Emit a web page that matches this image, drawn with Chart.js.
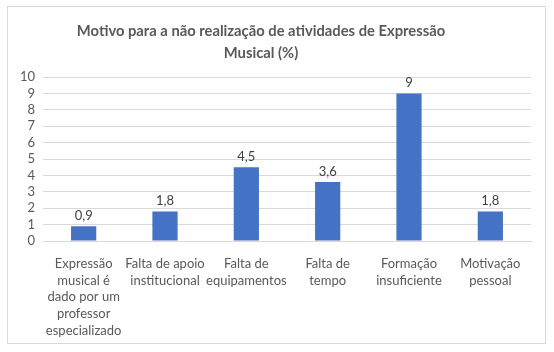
<!DOCTYPE html>
<html>
<head>
<meta charset="utf-8">
<script src="https://cdn.jsdelivr.net/npm/chart.js@4/dist/chart.umd.min.js"></script>
<style>
  html, body { margin: 0; padding: 0; background: #fff; }
  #wrap { width: 554px; height: 352px; position: relative; }
</style>
</head>
<body>
<div id="wrap"><canvas id="myChart" width="554" height="352"></canvas></div>
<script>
var titleLines = ['Motivo para a não realização de atividades de Expressão', 'Musical (%)'];
var categories = [
    ['Expressão', 'musical é', 'dado por um', 'professor', 'especializado'],
    ['Falta de apoio', 'institucional'],
    ['Falta de', 'equipamentos'],
    ['Falta de', 'tempo'],
    ['Formação', 'insuficiente'],
    ['Motivação', 'pessoal']
];
var values = [0.9, 1.8, 4.5, 3.6, 9, 1.8];
var yMin = 0, yMax = 10, yStep = 1;

var fontFamily = "Lato, 'Open Sans', sans-serif";

// border, title and value labels drawn like Excel does
var excelLook = {
    id: 'excelLook',
    beforeDraw: function(chart) {
        var ctx = chart.ctx;
        ctx.save();
        ctx.fillStyle = '#fff';
        ctx.fillRect(0, 0, chart.width, chart.height);
        ctx.strokeStyle = '#d9d9d9';
        ctx.lineWidth = 1;
        ctx.strokeRect(7.5, 6.5, 538, 337);
        ctx.fillStyle = '#595959';
        // shrink the title font until the first line is as wide as in the picture
        var size = 17;
        ctx.font = 'bold ' + size + 'px ' + fontFamily;
        while (size > 10 && ctx.measureText(titleLines[0]).width > 374) {
            size -= 0.25;
            ctx.font = 'bold ' + size + 'px ' + fontFamily;
        }
        ctx.textAlign = 'center';
        ctx.textBaseline = 'middle';
        ctx.fillText(titleLines[0], 261, 31);
        ctx.fillText(titleLines[1], 261, 53);
        ctx.restore();
    },
    afterDatasetsDraw: function(chart) {
        var ctx = chart.ctx;
        var meta = chart.getDatasetMeta(0);
        ctx.save();
        ctx.fillStyle = '#404040';
        ctx.font = '13px ' + fontFamily;
        ctx.textAlign = 'center';
        ctx.textBaseline = 'bottom';
        meta.data.forEach(function(bar, i) {
            var txt = String(values[i]).replace('.', ',');
            ctx.fillText(txt, bar.x, bar.y - 4);
        });
        ctx.restore();
    }
};

var ctx = document.getElementById('myChart').getContext('2d');
var myChart = new Chart(ctx, {
    type: 'bar',
    data: {
        labels: categories,
        datasets: [{
            data: values,
            backgroundColor: '#4472c4',
            categoryPercentage: 1,
            barPercentage: 0.31
        }]
    },
    options: {
        responsive: false,
        animation: false,
        layout: {
            padding: { left: 0, right: 23, top: 77, bottom: 0 }
        },
        plugins: {
            legend: { display: false },
            title: { display: false },
            tooltip: { enabled: false }
        },
        scales: {
            x: {
                grid: { display: false, drawTicks: false },
                border: { display: true, color: '#d9d9d9' },
                ticks: {
                    color: '#595959',
                    font: { family: fontFamily, size: 13, lineHeight: 1.3 },
                    padding: 14,
                    maxRotation: 0,
                    autoSkip: false
                },
                afterFit: function(scale) { scale.height = 111; }
            },
            y: {
                min: yMin,
                max: yMax,
                grid: { color: '#d9d9d9', drawTicks: false },
                border: { display: false },
                ticks: {
                    stepSize: yStep,
                    autoSkip: false,
                    color: '#595959',
                    font: { family: fontFamily, size: 13 },
                    padding: 8
                },
                afterFit: function(scale) { scale.width = 43; }
            }
        }
    },
    plugins: [excelLook]
});
</script>
</body>
</html>
